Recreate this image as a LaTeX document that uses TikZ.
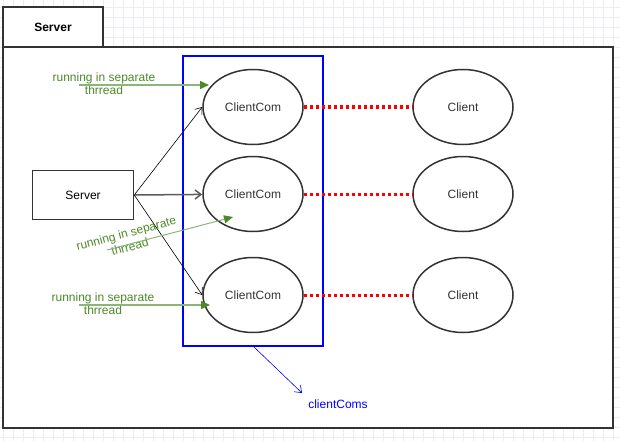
\documentclass[tikz,border=0pt]{standalone}
\usepackage{fontspec}
\setmainfont{Liberation Sans}
\usetikzlibrary{arrows.meta,positioning,shapes.geometric}
\definecolor{gridcol}{RGB}{236,236,248}
\definecolor{framecol}{RGB}{51,51,51}
\definecolor{tgreen}{RGB}{77,138,39}
\definecolor{tgreenl}{RGB}{140,182,120}
\tikzset{
  gridline/.style={draw=gridcol,line width=0.8pt},
  frame/.style={draw=framecol,line width=2pt,fill=white},
  proc/.style={ellipse,draw=framecol,line width=1.5pt,minimum width=100pt,minimum height=75pt,inner sep=0pt,text=framecol},
  call/.style={-{Straight Barb[length=6pt,width=9pt]},line width=0.6pt},
  thread/.style={draw=tgreenl,line width=1.5pt,-{Triangle[length=9pt,width=8pt,color=tgreen]}},
  threadlbl/.style={text=tgreen,align=center,font=\fontsize{12}{13}\selectfont,inner sep=0pt},
  link/.style={draw=red,line width=3pt,dash pattern=on 3pt off 3pt}
}
\begin{document}
\begin{tikzpicture}[x=1pt,y=-1pt,font=\fontsize{12}{14}\selectfont]
  \useasboundingbox (0,0) rectangle (620,441);
  % background grid
  \foreach \x in {3,13,...,613} \draw[gridline] (\x,0) -- (\x,441);
  \foreach \y in {7,17,...,437} \draw[gridline] (0,\y) -- (620,\y);
  % outer frame with tab
  \draw[frame] (3,46.7) rectangle (612.7,427.7);
  \draw[frame] (3,7) rectangle (103,46.7);
  \node[font=\bfseries\fontsize{12}{14}\selectfont] (tab) at (53,27) {Server};
  % clientComs group
  \draw[draw=blue,line width=2pt] (183,56) rectangle (323,346);
  \coordinate (grp) at (254,347);
  \node[text=blue] (grplbl) at (338,404) {clientComs};
  \draw[blue,-{Straight Barb[length=6pt,width=9pt]},line width=0.6pt] (grp) -- (302,393);
  % server
  \node[draw=framecol,line width=1.5pt,minimum width=101pt,minimum height=49pt,inner sep=0pt] (server) at (83,195) {Server};
  % clientComs and clients
  \node[proc] (cc1) at (253,107) {ClientCom};
  \node[proc] (cc2) at (253,194) {ClientCom};
  \node[proc] (cc3) at (253,295) {ClientCom};
  \node[proc] (cl1) at (463,107) {Client};
  \node[proc] (cl2) at (463,194) {Client};
  \node[proc] (cl3) at (463,295) {Client};
  \draw[link] (cc1) -- (cl1);
  \draw[link] (cc2) -- (cl2);
  \draw[link] (cc3) -- (cl3);
  % server starts the clientComs
  \draw[call] (server.east) -- (cc1.west |- 0,107);
  \draw[call,draw=framecol!80,line width=1.5pt] (server.east) -- (cc2);
  \draw[call] (server.east) -- (cc3.west |- 0,295);
  % threads
  \node[threadlbl] (t1) at (104,83.5) {running in separate\\thrread};
  \coordinate (t1s) at (79,85);
  \draw[thread] (t1s) -- (209,85);
  \node[threadlbl,rotate=15,font=\fontsize{12}{14}\selectfont] (t2) at (128,240) {running in separate\\thrread};
  \coordinate (t2s) at (107,250);
  \draw[thread,line width=1pt] (t2s) -- (233,217);
  \node[threadlbl] (t3) at (103,303.5) {running in separate\\thrread};
  \coordinate (t3s) at (79,305);
  \draw[thread] (t3s) -- (210,305);
\end{tikzpicture}
\end{document}
